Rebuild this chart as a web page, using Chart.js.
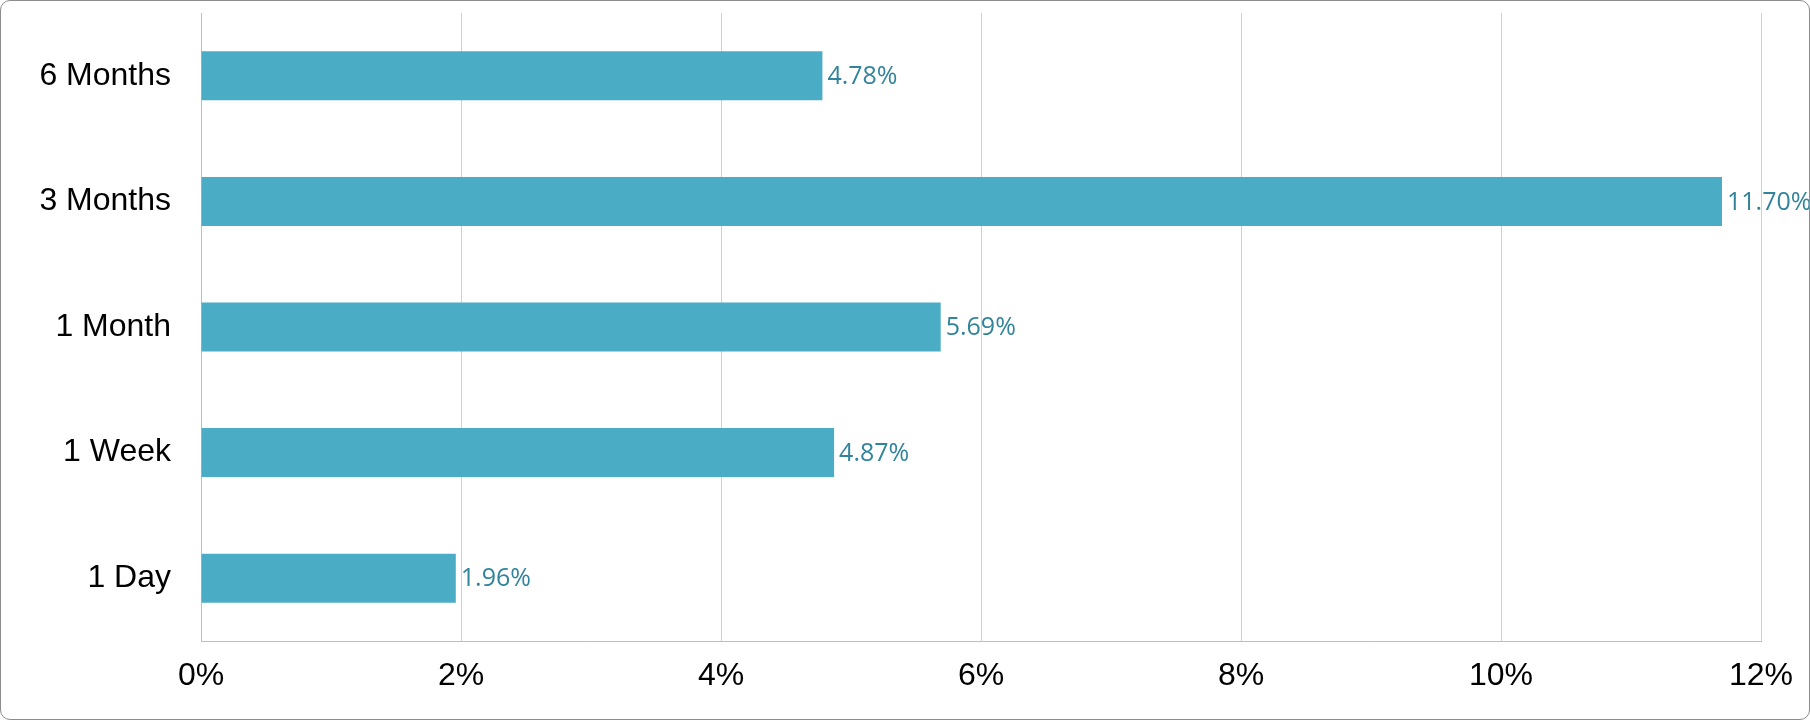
<!DOCTYPE html>
<html>
<head>
<meta charset="UTF-8">
<title>Returns by period</title>
<script type="text/javascript" src="https://cdn.jsdelivr.net/npm/chart.js@4/dist/chart.umd.min.js"></script>
<style>
  html, body { margin:0; padding:0; background:#fff; }
  #container {
    position:relative; width:1810px; height:720px; box-sizing:border-box;
    border:1px solid #8c8c8c; border-radius:10px; overflow:hidden;
  }
  canvas { -webkit-user-select:none; user-select:none; }
</style>
</head>
<body>
<div id="container">
  <canvas id="canvas"></canvas>
</div>
<script type="text/javascript">
// categories, top to bottom
const periods = ['6 Months', '3 Months', '1 Month', '1 Week', '1 Day'];
// percent values
const returns = [4.78, 11.70, 5.69, 4.87, 1.96];
// x axis ticks
const xMin = 0, xMax = 12, xStep = 2;

// value labels at the end of each bar
const barLabels = {
  id: 'barLabels',
  afterDatasetsDraw(chart) {
    const ctx = chart.ctx;
    const meta = chart.getDatasetMeta(0);
    ctx.save();
    ctx.font = '25px "Open Sans"';
    ctx.fillStyle = '#31849B';
    ctx.textAlign = 'left';
    ctx.textBaseline = 'middle';
    meta.data.forEach(function(bar, i) {
      ctx.fillText(returns[i].toFixed(2) + '%', bar.x + 5, bar.y + 1);
    });
    ctx.restore();
  }
};

new Chart(document.getElementById('canvas'), {
  type: 'bar',
  data: {
    labels: periods,
    datasets: [{
      data: returns,
      backgroundColor: '#4BACC6',
      barPercentage: 0.39,
      categoryPercentage: 1
    }]
  },
  options: {
    indexAxis: 'y',
    responsive: true,
    maintainAspectRatio: false,
    animation: false,
    layout: { padding: { top: 12, right: 48, bottom: 0, left: 0 } },
    plugins: { legend: { display: false }, tooltip: { enabled: false } },
    scales: {
      x: {
        min: xMin, max: xMax,
        ticks: {
          stepSize: xStep,
          padding: 16,
          color: '#000',
          font: { family: '"Liberation Sans", Arial', size: 32 },
          callback: function(v) { return v + '%'; }
        },
        grid: { color: '#d0d0d0', drawTicks: false },
        border: { color: '#bfbfbf' },
        afterFit: function(s) { s.height = 78; s.paddingLeft = 0; s.paddingRight = 0; }
      },
      y: {
        ticks: {
          padding: 30,
          color: '#000',
          font: { family: '"Liberation Sans", Arial', size: 32 }
        },
        grid: { display: false, drawTicks: false },
        border: { color: '#bfbfbf' },
        afterFit: function(s) { s.width = 200; s.paddingTop = 0; s.paddingBottom = 0; }
      }
    }
  },
  plugins: [barLabels]
});
</script>
</body>
</html>
